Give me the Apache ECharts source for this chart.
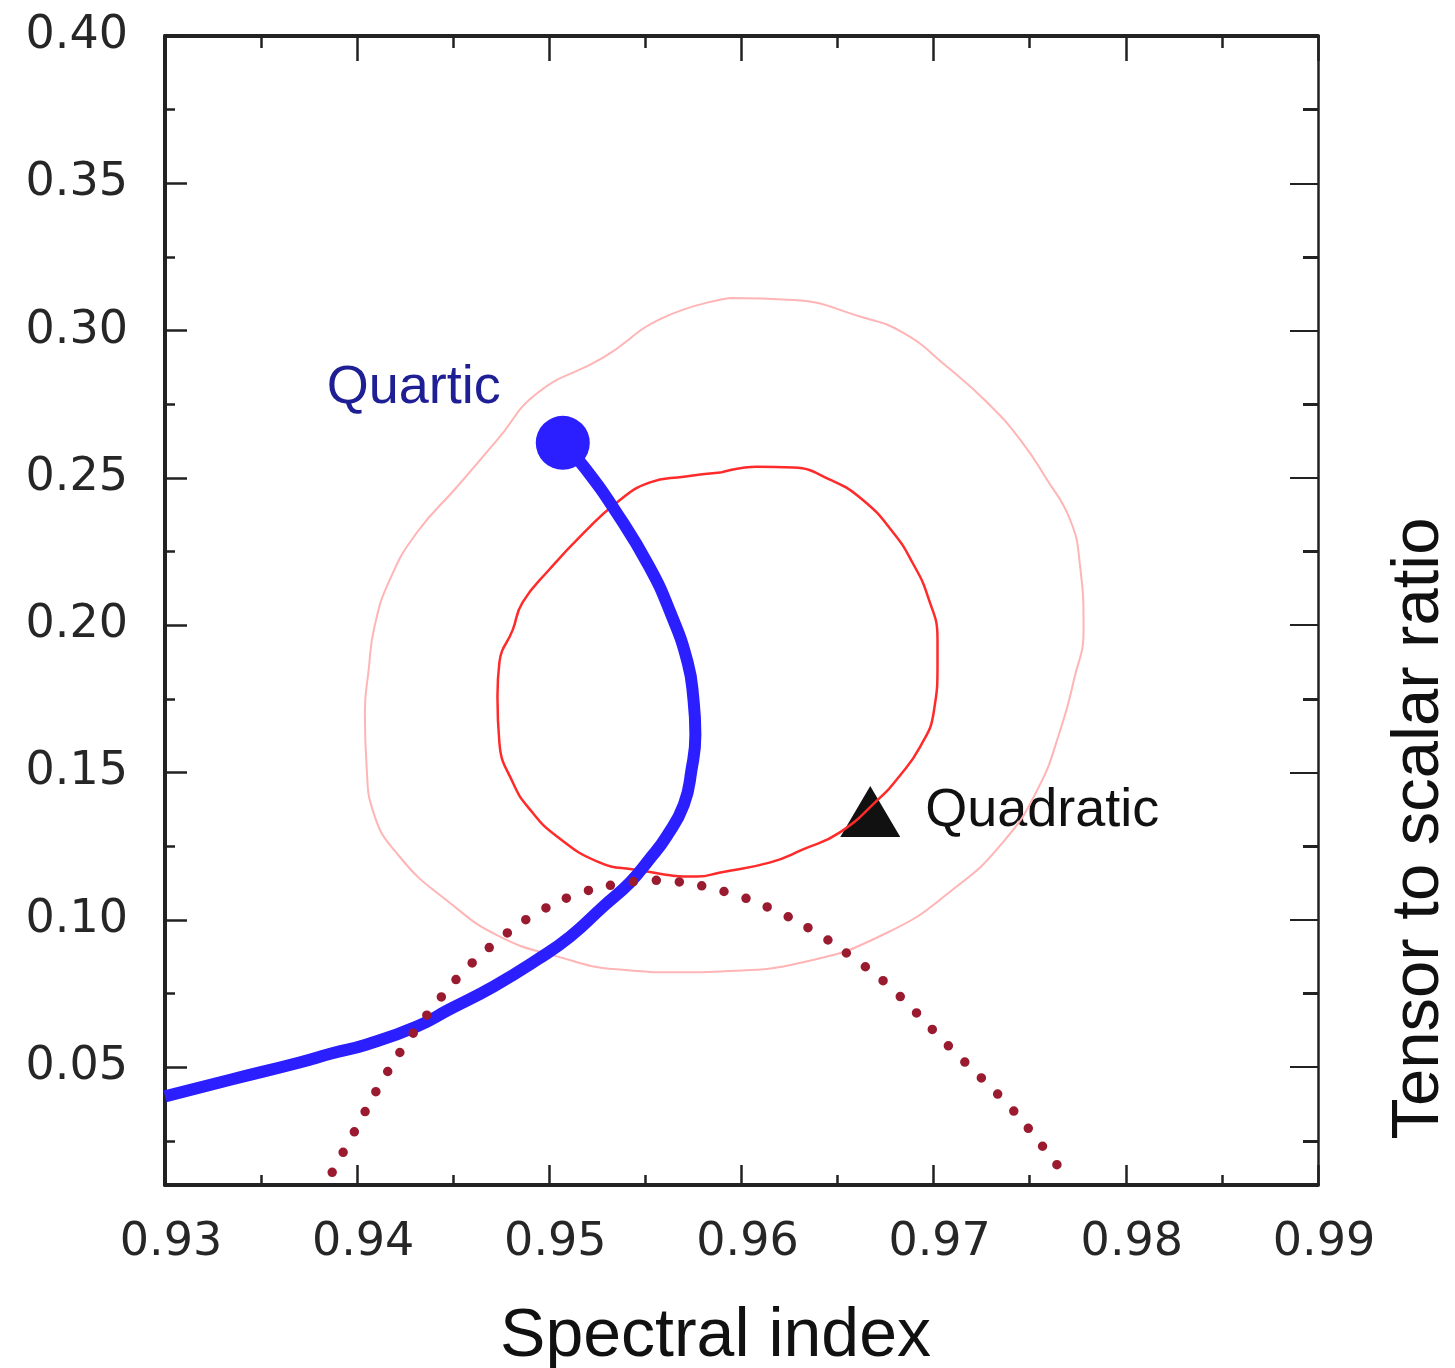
<!DOCTYPE html>
<html>
<head>
<meta charset="utf-8">
<script src="https://cdn.jsdelivr.net/npm/echarts@6/dist/echarts.min.js"></script>
<style>html,body{margin:0;padding:0;background:#fff;}#c{width:1455px;height:1368px;}</style>
</head>
<body>
<div id="c"></div>
<script>
// ---- data ----
const xTickLabels = [0.93, 0.94, 0.95, 0.96, 0.97, 0.98, 0.99];
const yMajorTicks = [0.05, 0.10, 0.15, 0.20, 0.25, 0.30, 0.35, 0.40];
const yMinorTicks = [0.025, 0.075, 0.125, 0.175, 0.225, 0.275, 0.325, 0.375];

// outer (2-sigma) contour
const outerX = [0.9594, 0.9559, 0.9528, 0.9494, 0.9473, 0.9452, 0.9431, 0.9417, 0.9409, 0.9406, 0.9404, 0.9405, 0.9408, 0.9422, 0.9448, 0.9474, 0.9504, 0.9535, 0.9570, 0.9589, 0.9632, 0.9676, 0.9710, 0.9736, 0.9754, 0.9766, 0.9773, 0.9778, 0.9776, 0.9771, 0.9759, 0.9745, 0.9728, 0.9707, 0.9684, 0.9662, 0.9627, 0.9594];
const outerY = [0.3111, 0.3043, 0.2908, 0.2789, 0.2630, 0.2470, 0.2314, 0.2155, 0.1995, 0.1849, 0.1704, 0.1510, 0.1374, 0.1215, 0.1059, 0.0944, 0.0876, 0.0832, 0.0822, 0.0825, 0.0856, 0.0957, 0.1103, 0.1263, 0.1442, 0.1646, 0.1815, 0.1985, 0.2212, 0.2358, 0.2494, 0.2630, 0.2755, 0.2877, 0.2993, 0.3047, 0.3104, 0.3111];

// inner (1-sigma) contour
const innerX = [0.9589, 0.9608, 0.9627, 0.9646, 0.9663, 0.9679, 0.9689, 0.9697, 0.9702, 0.9702, 0.9700, 0.9693, 0.9682, 0.9671, 0.9651, 0.9632, 0.9615, 0.9589, 0.9577, 0.9544, 0.9526, 0.9504, 0.9490, 0.9481, 0.9474, 0.9473, 0.9474, 0.9481, 0.9486, 0.9500, 0.9518, 0.9535, 0.9552, 0.9570, 0.9589];
const innerY = [0.2518, 0.2538, 0.2535, 0.2494, 0.2426, 0.2314, 0.2212, 0.2097, 0.1951, 0.1873, 0.1704, 0.1588, 0.1486, 0.1408, 0.1296, 0.1239, 0.1195, 0.1161, 0.1147, 0.1171, 0.1195, 0.1283, 0.1374, 0.1466, 0.1602, 0.1758, 0.1873, 0.1985, 0.2077, 0.2189, 0.2314, 0.2416, 0.2484, 0.2504, 0.2518];

// quartic trajectory
const quarticX = [0.9507, 0.9518, 0.9535, 0.9552, 0.9563, 0.9572, 0.9575, 0.9576, 0.9574, 0.9570, 0.9561, 0.9552, 0.9542, 0.9528, 0.9511, 0.9494, 0.9471, 0.9448, 0.9431, 0.9405, 0.9387, 0.9370, 0.9335, 0.9300];
const quarticY = [0.2619, 0.2538, 0.2382, 0.2199, 0.2043, 0.1873, 0.1748, 0.1629, 0.1510, 0.1391, 0.1283, 0.1205, 0.1127, 0.1045, 0.0944, 0.0866, 0.0774, 0.0696, 0.0638, 0.0577, 0.0547, 0.0516, 0.0459, 0.0401];

// dotted curve
const dotX = [0.9387, 0.9399, 0.9411, 0.9424, 0.9439, 0.9455, 0.9474, 0.9494, 0.9517, 0.9541, 0.9554, 0.9566, 0.9591, 0.9614, 0.9637, 0.9657, 0.9677, 0.9708, 0.9739, 0.9755, 0.9770];
const dotY = [0.0143, 0.0286, 0.0431, 0.0567, 0.0699, 0.0822, 0.0934, 0.1025, 0.1093, 0.1127, 0.1134, 0.1130, 0.1096, 0.1042, 0.0964, 0.0876, 0.0774, 0.0570, 0.0370, 0.0245, 0.0119];

// marked points
const quarticPoint = [0.9507, 0.2619];
const quadraticPoint = [0.9667, 0.1368];

const zip = (xs, ys) => xs.map((x, i) => [x, ys[i]]);

const tickFont = {fontFamily: 'DejaVu Sans', fontSize: 46, color: '#262626'};
const AX = '#222';

const chart = echarts.init(document.getElementById('c'), null, {renderer: 'canvas'});
const yRange = {min: 0.01, max: 0.40};

chart.setOption({
  animation: false,
  backgroundColor: '#fff',
  grid: {left: 165, top: 36, right: 137, bottom: 183, containLabel: false, outerBoundsMode: 'none'},
  xAxis: [
    {
      type: 'value', position: 'bottom', min: 0.93, max: 0.99, interval: 0.01,
      axisLine: {show: true, lineStyle: {color: AX, width: 4}},
      axisTick: {show: true, inside: true, length: 20, lineStyle: {color: AX, width: 2.5}},
      minorTick: {show: true, splitNumber: 2, length: 10, lineStyle: {color: AX, width: 2.5}},
      splitLine: {show: false},
      axisLabel: Object.assign({margin: 35, padding: [0, 0, 0, 12], formatter: v => xTickLabels.find(t => Math.abs(t - v) < 1e-6)?.toFixed(2) ?? ''}, tickFont),
      name: 'Spectral index', nameLocation: 'middle', nameGap: 118,
      nameTextStyle: {fontFamily: 'Liberation Sans', fontSize: 68, color: '#111', padding: [0, 52, 0, 0]}
    },
    {
      type: 'value', position: 'top', min: 0.93, max: 0.99, interval: 0.01,
      axisLine: {show: true, lineStyle: {color: AX, width: 4}},
      axisTick: {show: true, inside: true, length: 25, lineStyle: {color: AX, width: 2.5}},
      minorTick: {show: true, splitNumber: 2, length: 12, lineStyle: {color: AX, width: 2.5}},
      splitLine: {show: false},
      axisLabel: {show: false}
    }
  ],
  yAxis: [
    Object.assign({
      type: 'value', position: 'left',
      axisLine: {show: true, lineStyle: {color: AX, width: 4}},
      axisTick: {show: true, inside: true, length: 22, customValues: yMajorTicks, lineStyle: {color: AX, width: 2.5}},
      splitLine: {show: false},
      axisLabel: Object.assign({margin: 37, customValues: yMajorTicks, formatter: v => v.toFixed(2)}, tickFont)
    }, yRange),
    Object.assign({
      type: 'value', position: 'left',
      axisLine: {show: false},
      axisTick: {show: true, inside: true, length: 10, customValues: yMinorTicks, lineStyle: {color: AX, width: 2.5}},
      splitLine: {show: false},
      axisLabel: {show: false}
    }, yRange),
    Object.assign({
      type: 'value', position: 'right',
      axisLine: {show: true, lineStyle: {color: AX, width: 2.5}},
      axisTick: {show: true, inside: true, length: 28, customValues: yMajorTicks, lineStyle: {color: AX, width: 2}},
      splitLine: {show: false},
      axisLabel: {show: false},
      name: 'Tensor to scalar ratio', nameLocation: 'middle', nameRotate: 90, nameGap: 68,
      nameTextStyle: {fontFamily: 'Liberation Sans', fontSize: 67, color: '#111', padding: [0, 436, 0, 0]}
    }, yRange),
    Object.assign({
      type: 'value', position: 'right',
      axisLine: {show: false},
      axisTick: {show: true, inside: true, length: 15, customValues: yMinorTicks, lineStyle: {color: AX, width: 3}},
      splitLine: {show: false},
      axisLabel: {show: false}
    }, yRange)
  ],
  series: [
    {
      name: 'outer contour', type: 'line', data: zip(outerX, outerY), smooth: 0.5,
      showSymbol: false, symbol: 'none', silent: true,
      lineStyle: {color: '#ffb5b5', width: 2}
    },
    {
      name: 'inner contour', type: 'line', data: zip(innerX, innerY), smooth: 0.5,
      showSymbol: false, symbol: 'none', silent: true,
      lineStyle: {color: '#ff2a2a', width: 2.5}
    },
    {
      name: 'Quartic', type: 'line', data: zip(quarticX, quarticY), smooth: 0.5,
      showSymbol: false, symbol: 'none', silent: true,
      lineStyle: {color: '#2b1eff', width: 12}
    },
    {
      name: 'Quartic point', type: 'scatter', data: [quarticPoint], symbol: 'circle', symbolSize: 54,
      itemStyle: {color: '#2b1eff', opacity: 1}, silent: true,
      label: {show: true, formatter: 'Quartic', position: 'left', distance: 35, offset: [0, -55],
        fontFamily: 'Liberation Sans', fontSize: 54, color: '#1f1f95'}
    },
    {
      name: 'dotted', type: 'line', data: zip(dotX, dotY), smooth: 0.4,
      showSymbol: false, symbol: 'none', silent: true,
      lineStyle: {color: '#9a1b2f', width: 9.5, type: [0, 23], cap: 'round', opacity: 1}
    },
    {
      name: 'Quadratic', type: 'scatter', data: [quadraticPoint], symbol: 'triangle', symbolSize: [60, 51],
      itemStyle: {color: '#111', opacity: 1}, silent: true,
      label: {show: true, formatter: 'Quadratic', position: 'right', distance: 25, offset: [0, 0],
        fontFamily: 'Liberation Sans', fontSize: 54, color: '#111'}
    }
  ]
});
</script>
</body>
</html>
